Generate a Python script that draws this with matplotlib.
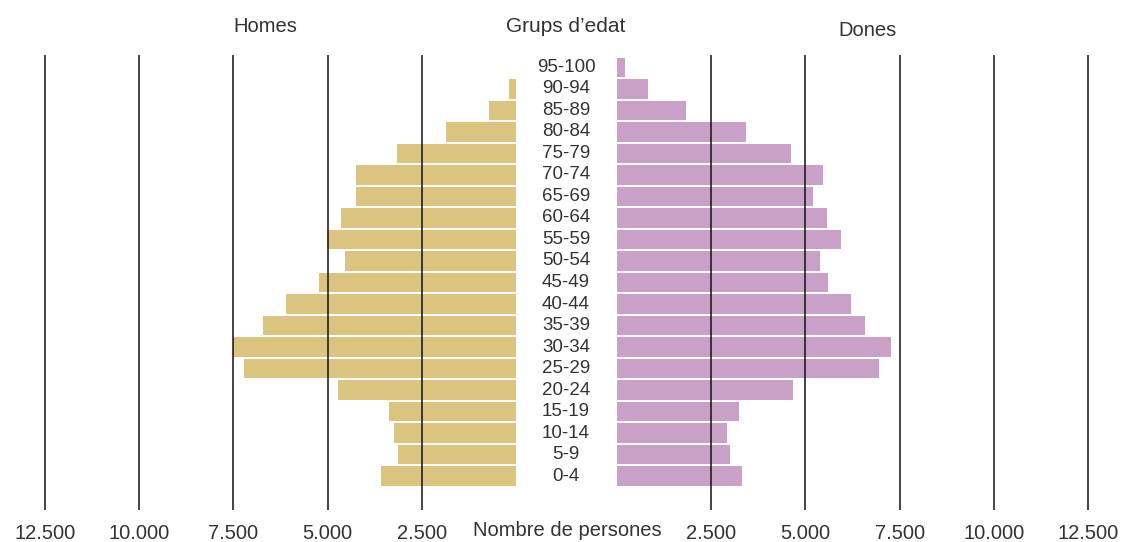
import matplotlib
matplotlib.use("Agg")
import matplotlib.pyplot as plt

plt.rcParams['font.family'] = ['Liberation Sans Narrow', 'Liberation Sans', 'DejaVu Sans']

grups = ["0-4", "5-9", "10-14", "15-19", "20-24", "25-29", "30-34", "35-39",
         "40-44", "45-49", "50-54", "55-59", "60-64", "65-69", "70-74",
         "75-79", "80-84", "85-89", "90-94", "95-100"]
homes = [3580, 3130, 3240, 3370, 4720, 7220, 7510, 6710, 6100, 5230,
         4540, 5020, 4640, 4250, 4250, 3160, 1860, 720, 190, 0]
dones = [3320, 3000, 2920, 3240, 4670, 6950, 7270, 6580, 6210, 5600,
         5390, 5940, 5570, 5200, 5470, 4620, 3420, 1830, 820, 210]
ticks = [2500, 5000, 7500, 10000, 12500]
tick_labels = ["2.500", "5.000", "7.500", "10.000", "12.500"]

c_homes = "#DBC480"
c_dones = "#C8A0C8"
txt = "#333333"

W, H = 1128, 542
fig = plt.figure(figsize=(W / 100, H / 100), dpi=100)

px = 471 / 12500  # pixels per person
xmax = 13000
span = xmax * px
bottom = 1 - 510 / H
height = (510 - 55) / H

axL = fig.add_axes([(516 - span) / W, bottom, span / W, height])
axR = fig.add_axes([617 / W, bottom, span / W, height])

y = list(range(len(grups)))
axL.barh(y, homes, height=0.92, color=c_homes, zorder=1)
axR.barh(y, dones, height=0.92, color=c_dones, zorder=1)

for ax in (axL, axR):
    ax.set_ylim(-1.58, 19.58)
    ax.set_xlim(0, xmax)
    ax.vlines(ticks, -1.58, 19.58, color="#111111", linewidth=1.1, zorder=3)
    ax.set_xticks(ticks)
    ax.set_xticklabels(tick_labels, fontsize=14.5, color=txt)
    ax.tick_params(axis="x", length=0, pad=10)
    ax.set_yticks([])
    for s in ax.spines.values():
        s.set_visible(False)
    ax.patch.set_alpha(0)
axL.invert_xaxis()

# etiquetes dels grups d'edat, al centre
for i, g in enumerate(grups):
    axR.annotate(g, xy=(0, i), xycoords=("axes fraction", "data"),
                 xytext=(-51, 0), textcoords="offset pixels",
                 ha="center", va="center", fontsize=13.5, color=txt)

fig.text(265 / W, 1 - 26 / H, "Homes", ha="center", va="center", fontsize=14.5, color=txt)
fig.text(566 / W, 1 - 26 / H, "Grups d\u2019edat", ha="center", va="center", fontsize=15, color=txt)
fig.text(867 / W, 1 - 31 / H, "Dones", ha="center", va="center", fontsize=14.5, color=txt)
fig.text(567 / W, 1 - 531 / H, "Nombre de persones", ha="center", va="center", fontsize=14.5, color=txt)

fig.savefig("out.png", dpi=100, facecolor="white")
